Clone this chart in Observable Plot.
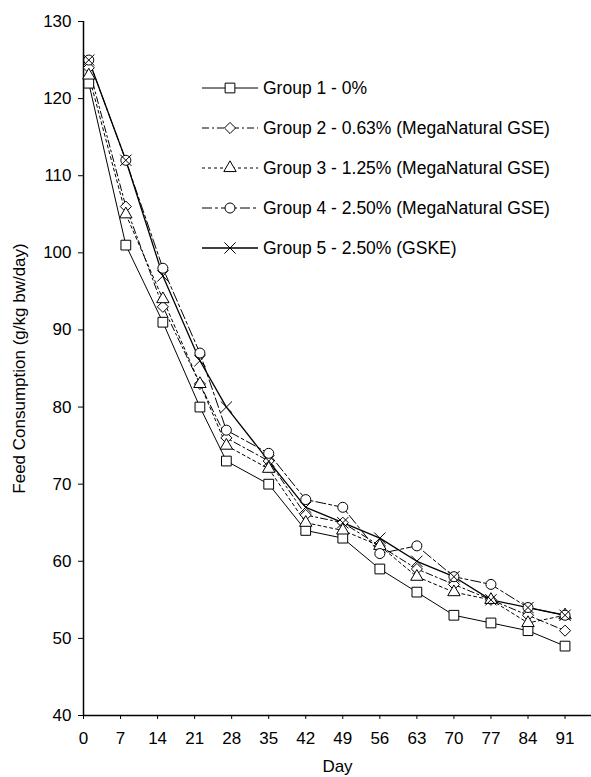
<!DOCTYPE html>
<html>
<head>
<meta charset="utf-8">
<script src="https://cdn.jsdelivr.net/npm/d3@7"></script>
<script src="https://cdn.jsdelivr.net/npm/@observablehq/plot@0.6"></script>
<style>
  html, body { margin: 0; padding: 0; background: #fff; }
  #chart svg { display: block; }
</style>
</head>
<body>
<div id="chart"></div>
<script>
// ---- data ----
const days = [1, 8, 15, 22, 27, 35, 42, 49, 56, 63, 70, 77, 84, 91];
const group1 = [122, 101, 91, 80, 73, 70, 64, 63, 59, 56, 53, 52, 51, 49];
const group2 = [124, 106, 93, 83, 76, 73, 66, 65, 62, 59, 57, 55, 53, 51];
const group3 = [123, 105, 94, 83, 75, 72, 65, 64, 62, 58, 56, 55, 52, 53];
const group4 = [125, 112, 98, 87, 77, 74, 68, 67, 61, 62, 58, 57, 54, 53];
const group5 = [125, 112, 97, 86, 80, 73, 67, 65, 63, 60, 58, 55, 54, 53];
const groupNames = [
  "Group 1 - 0%",
  "Group 2 - 0.63% (MegaNatural GSE)",
  "Group 3 - 1.25% (MegaNatural GSE)",
  "Group 4 - 2.50% (MegaNatural GSE)",
  "Group 5 - 2.50% (GSKE)"
];
const xTicks = [0, 7, 14, 21, 28, 35, 42, 49, 56, 63, 70, 77, 84, 91];
const yTicks = [40, 50, 60, 70, 80, 90, 100, 110, 120, 130];
const xLabel = "Day";
const yLabel = "Feed Consumption (g/kg bw/day)";

// ---- styles ----
const seriesValues = [group1, group2, group3, group4, group5];
const dashes = [null, "7,3,2,3", "3,3", "10,3,3,3", null];
const symbols = ["square", "diamond2", "triangle", "circle", "times"];
const symbolR = [5.5, 5, 4.6, 5, 5.2];
const strokeWidths = [1, 1, 1, 1, 1.3];

const series = seriesValues.map((vals, g) =>
  days.map((d, i) => ({day: d, value: vals[i], group: groupNames[g]}))
);

const FONT = "'Liberation Sans', Arial, sans-serif";

const marks = [
  Plot.axisY({ticks: yTicks, tickSize: 5, tickPadding: 7, label: yLabel,
    labelAnchor: "center", labelArrow: "none", labelOffset: 71}),
  Plot.axisX({ticks: xTicks, tickSize: 4, tickPadding: 12, label: xLabel,
    labelAnchor: "center", labelArrow: "none", labelOffset: 56}),
  Plot.ruleX([0], {stroke: "black", strokeWidth: 1.5}),
  Plot.ruleY([40], {stroke: "black", strokeWidth: 1.5})
];
series.forEach((s, g) => {
  marks.push(Plot.line(s, {x: "day", y: "value", stroke: "black",
    strokeWidth: strokeWidths[g], strokeDasharray: dashes[g] || undefined}));
});
series.forEach((s, g) => {
  const isTimes = symbols[g] === "times";
  marks.push(Plot.dot(s, {x: "day", y: "value", symbol: symbols[g], r: symbolR[g],
    fill: isTimes ? "none" : "white", stroke: "black", strokeWidth: 1}));
});

const plot = Plot.plot({
  width: 591,
  height: 777,
  marginLeft: 83,
  marginRight: 0,
  marginTop: 21,
  marginBottom: 62,
  style: {fontFamily: FONT, fontSize: "17px", color: "black", background: "white", overflow: "visible"},
  x: {domain: [0, 96]},
  y: {domain: [40, 130]},
  marks
});
document.getElementById("chart").appendChild(plot);

// ---- legend (inside plot area, top right) ----
const svg = d3.select(plot);
const legend = svg.append("g").attr("font-family", FONT).attr("font-size", "17.5px")
  .attr("text-anchor", "start");
const lx0 = 202, lx1 = 258, lmx = 230, ltx = 263, ly0 = 88, lstep = 40;
const symMap = {square: d3.symbolSquare, diamond2: d3.symbolDiamond2, triangle: d3.symbolTriangle,
  circle: d3.symbolCircle, times: d3.symbolTimes};
groupNames.forEach((name, g) => {
  const y = ly0 + g * lstep;
  const row = legend.append("g");
  row.append("line").attr("x1", lx0).attr("x2", lx1).attr("y1", y).attr("y2", y)
    .attr("stroke", "black").attr("stroke-width", strokeWidths[g])
    .attr("stroke-dasharray", dashes[g] || null);
  const size = Math.PI * symbolR[g] * symbolR[g];
  row.append("path").attr("d", d3.symbol(symMap[symbols[g]], size)())
    .attr("transform", `translate(${lmx},${y})`)
    .attr("fill", symbols[g] === "times" ? "none" : "white")
    .attr("stroke", "black").attr("stroke-width", 1);
  row.append("text").attr("x", ltx).attr("y", y).attr("dy", "0.35em")
    .attr("text-anchor", "start").text(name);
});
</script>
</body>
</html>
